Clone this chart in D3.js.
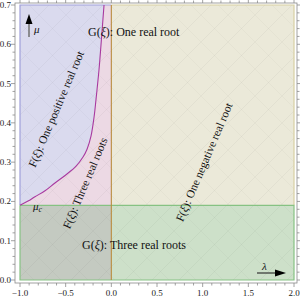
<!DOCTYPE html>
<html><head><meta charset="utf-8">
<script src="https://cdn.jsdelivr.net/npm/d3@7"></script>
<style>html,body{margin:0;padding:0;background:#fff;overflow:hidden}svg{display:block}</style>
</head><body>
<svg id="c" width="300" height="298"></svg>
<script>
// ---- data ----
const lambdaDomain = [-1, 2];
const muDomain = [0, 0.7];
const muC = 0.19;
// boundary curve of F discriminant (mu vs lambda)
const curveLambda = [-1.0, -0.912, -0.836, -0.726, -0.617, -0.496, -0.386, -0.310, -0.266, -0.222, -0.189, -0.168, -0.135, -0.113, -0.080];
const curveMu     = [0.19, 0.201, 0.212, 0.227, 0.247, 0.268, 0.290, 0.313, 0.333, 0.367, 0.415, 0.459, 0.535, 0.599, 0.70];
const xMajor = [-1.0, -0.5, 0.0, 0.5, 1.0, 1.5, 2.0];
const xMajorLabels = ["\u22121.0", "\u22120.5", "0.0", "0.5", "1.0", "1.5", "2.0"];
const yMajor = [0, 0.1, 0.2, 0.3, 0.4, 0.5, 0.6, 0.7];
const yMajorLabels = ["0.0", "0.1", "0.2", "0.3", "0.4", "0.5", "0.6", "0.7"];
const xMinorStep = 0.1, yMinorStep = 0.02;

const svg = d3.select("#c");
const x = d3.scaleLinear().domain(lambdaDomain).range([20, 294]);
const y = d3.scaleLinear().domain(muDomain).range([280, 5]);
const frame = {x0: 15, x1: 297, y0: 3, y1: 283};

const defs = svg.append("defs");
defs.append("clipPath").attr("id", "plotclip").append("rect")
  .attr("x", x(-1)).attr("y", y(0.7)).attr("width", x(2) - x(-1)).attr("height", y(0) - y(0.7));

const curvePts = curveLambda.map((l, i) => [l, curveMu[i]]);
const line = d3.line().x(d => x(d[0])).y(d => y(d[1])).curve(d3.curveCatmullRom);
const lineStraight = d3.line().x(d => x(d[0])).y(d => y(d[1]));

const g = svg.append("g");

g.append("path").attr("d", lineStraight([[0, muC], [2, muC], [2, 0.7], [0, 0.7]]) + "Z")
  .attr("fill", "#ebe9d9");
g.append("path").attr("d", lineStraight([[0, 0], [2, 0], [2, muC], [0, muC]]) + "Z")
  .attr("fill", "#cde0c9");
g.append("path").attr("d", lineStraight([[-1, 0], [0, 0], [0, muC], [-1, muC]]) + "Z")
  .attr("fill", "#c4cac1");
const curvePath = line(curvePts);
g.append("path").attr("d", curvePath + "L" + x(0) + "," + y(0.7) + "L" + x(0) + "," + y(muC) + "Z")
  .attr("fill", "#ecd9e4");
g.append("path").attr("d", curvePath + "L" + x(-1) + "," + y(0.7) + "Z")
  .attr("fill", "#dadaee");

// faint diagonal mesh
const mesh = g.append("g").attr("clip-path", "url(#plotclip)")
  .attr("stroke", "#000").attr("stroke-opacity", 0.05).attr("stroke-width", 0.7);
for (let k = -300; k < 600; k += 27) {
  mesh.append("line").attr("x1", k).attr("y1", 300).attr("x2", k + 300).attr("y2", 0);
  mesh.append("line").attr("x1", k).attr("y1", 0).attr("x2", k + 300).attr("y2", 300).attr("stroke-opacity", 0.035);
}

// boundary strokes
g.append("path").attr("d", lineStraight([[-1, muC], [-1, 0.7], [0, 0.7]]))
  .attr("fill", "none").attr("stroke", "#a0a0da").attr("stroke-width", 1.2);
g.append("path").attr("d", lineStraight([[0, 0.7], [2, 0.7], [2, muC]]))
  .attr("fill", "none").attr("stroke", "#d8d0a2").attr("stroke-width", 1.2);
g.append("path").attr("d", lineStraight([[-1, muC], [-1, 0], [2, 0], [2, muC], [-1, muC]]))
  .attr("fill", "none").attr("stroke", "#86c283").attr("stroke-width", 1.2);
g.append("path").attr("d", lineStraight([[0, 0], [0, 0.7]]))
  .attr("fill", "none").attr("stroke", "#b98b3e").attr("stroke-width", 1.1);
g.append("path").attr("d", curvePath)
  .attr("fill", "none").attr("stroke", "#a8399f").attr("stroke-width", 1.1);

// ---- frame & ticks ----
const fr = svg.append("g").attr("stroke", "#8a8a8a").attr("stroke-width", 0.8).attr("fill", "none");
fr.append("rect").attr("x", frame.x0).attr("y", frame.y0).attr("width", frame.x1 - frame.x0).attr("height", frame.y1 - frame.y0);
const xMinor = d3.range(lambdaDomain[0], lambdaDomain[1] + 1e-9, xMinorStep);
const yMinor = d3.range(muDomain[0], muDomain[1] + 1e-9, yMinorStep);
const isMajor = (v, arr) => arr.some(m => Math.abs(m - v) < 1e-6);
xMinor.forEach(v => {
  const L = isMajor(v, xMajor) ? 4 : 2.5;
  fr.append("line").attr("x1", x(v)).attr("x2", x(v)).attr("y1", frame.y1).attr("y2", frame.y1 + L);
  fr.append("line").attr("x1", x(v)).attr("x2", x(v)).attr("y1", frame.y0).attr("y2", frame.y0 - L);
});
yMinor.forEach(v => {
  const L = isMajor(v, yMajor) ? 4 : 2.5;
  fr.append("line").attr("y1", y(v)).attr("y2", y(v)).attr("x1", frame.x0).attr("x2", frame.x0 - L);
  fr.append("line").attr("y1", y(v)).attr("y2", y(v)).attr("x1", frame.x1).attr("x2", frame.x1 + L);
});
const tl = svg.append("g").attr("font-family", "Liberation Serif, Times New Roman, serif").attr("font-size", 9).attr("fill", "#222");
xMajor.forEach((v, i) => tl.append("text").attr("x", x(v)).attr("y", 296).attr("text-anchor", "middle").text(xMajorLabels[i]));
yMajor.forEach((v, i) => tl.append("text").attr("x", 11).attr("y", y(v) + 3).attr("text-anchor", "end").text(yMajorLabels[i]));

// ---- annotations ----
const an = svg.append("g").attr("font-family", "Liberation Serif, Times New Roman, serif").attr("font-size", 12).attr("fill", "#111");
function lab(sel, pre, post) {
  sel.append("tspan").text(pre + "(");
  sel.append("tspan").attr("font-style", "italic").text("\u03BE");
  sel.append("tspan").text("): " + post);
}
lab(an.append("text").attr("x", 88).attr("y", 36), "G", "One real root");
lab(an.append("text").attr("x", 82).attr("y", 249), "G", "Three real roots");
const rot = -67;
[["One positive real root", 56, 109], ["Three real roots", 85, 183], ["One negative real root", 204, 162]].forEach(d => {
  const t = an.append("text").attr("text-anchor", "middle").attr("dy", "0.35em").attr("font-size", 11.5)
    .attr("transform", `translate(${d[1]},${d[2]}) rotate(${rot})`);
  lab(t, "F", d[0]);
});

// mu arrow
const ar = svg.append("g");
ar.append("line").attr("x1", 29).attr("x2", 29).attr("y1", 37).attr("y2", 22).attr("stroke", "#777").attr("stroke-width", 1.6);
ar.append("path").attr("d", "M29,14 L25.5,24 L32.5,24 Z").attr("fill", "#000");
an.append("text").attr("x", 34).attr("y", 33).attr("font-style", "italic").attr("font-size", 11).text("\u03BC");
// lambda arrow
ar.append("line").attr("x1", 257).attr("x2", 278).attr("y1", 273).attr("y2", 273).attr("stroke", "#333").attr("stroke-width", 1.2);
ar.append("path").attr("d", "M286,273 L275,269.5 L275,276.5 Z").attr("fill", "#000");
an.append("text").attr("x", 262).attr("y", 270).attr("font-style", "italic").attr("font-size", 11).text("\u03BB");
// mu_c
const mc = an.append("text").attr("x", 33).attr("y", 210).attr("font-style", "italic").attr("font-size", 11);
mc.append("tspan").text("\u03BC");
mc.append("tspan").attr("font-size", 8).attr("dy", 2).text("c");
</script>
</body></html>
